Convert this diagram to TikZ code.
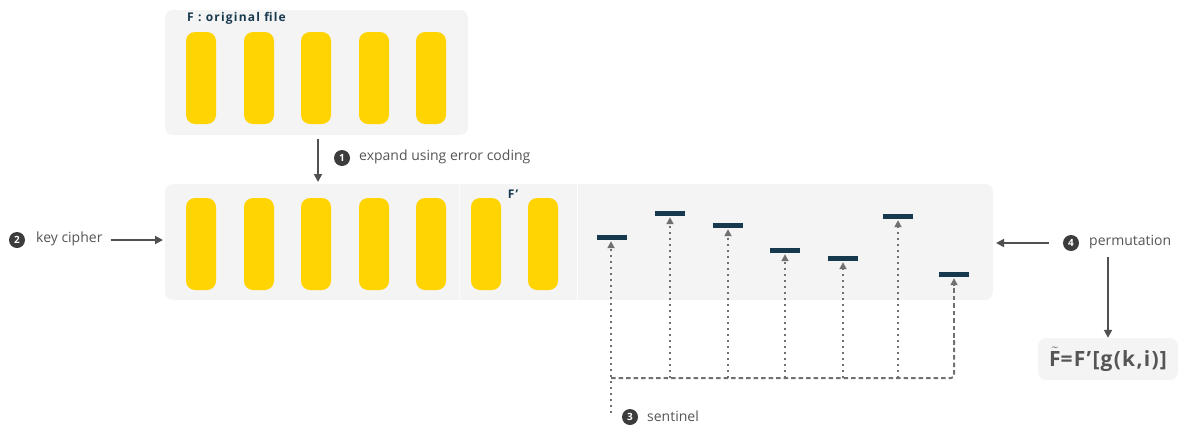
\documentclass[tikz,border=0pt]{standalone}
\usepackage{fontspec}
\setmainfont{Open Sans}
\usetikzlibrary{arrows.meta,calc}
\definecolor{panel}{HTML}{F4F4F5}
\definecolor{barcol}{HTML}{FFD400}
\definecolor{navy}{HTML}{17394D}
\definecolor{txt}{HTML}{555555}
\definecolor{arr}{HTML}{505050}
\definecolor{circ}{HTML}{3C3C3C}
\definecolor{dotc}{HTML}{707070}
\tikzset{
  panelbox/.style={fill=panel, draw=none, rounded corners=8pt, inner sep=0},
  filebar/.style={fill=barcol, draw=none, rounded corners=9pt, minimum width=30pt, minimum height=92pt, inner sep=0},
  sentbar/.style={fill=navy, draw=none, minimum width=30pt, minimum height=5pt, inner sep=0},
  num/.style={circle, fill=circ, text=white, minimum size=16pt, inner sep=0, font=\fontsize{10}{10}\selectfont\bfseries},
  lbl/.style={text=txt, font=\fontsize{14}{16}\selectfont, inner sep=0, anchor=west},
  title/.style={text=navy, font=\fontsize{12}{14}\selectfont\bfseries\addfontfeature{LetterSpace=10}, inner sep=0},
  flow/.style={draw=arr, line width=1.8pt, -{Triangle[length=8pt,width=8pt]}},
  dotline/.style={draw=dotc, line width=2pt, dash pattern=on 2pt off 4pt, -{Triangle[length=7pt,width=7pt]}, shorten >=1.5pt},
  dashline/.style={draw=dotc, line width=2pt, dash pattern=on 4.5pt off 3pt}
}
\begin{document}
\begin{tikzpicture}[x=1pt,y=-1pt]
\useasboundingbox (0,0) rectangle (1185,434);
% top panel
\node[panelbox, minimum width=303pt, minimum height=125pt] (top) at (316.5,72.5) {};
\node[title, anchor=west] (ftitle) at (187,18) {F : original file};
\foreach \i/\x in {1/201,2/259,3/316,4/374,5/431}
  \node[filebar] (t\i) at (\x,78) {};
% middle panel
\node[panelbox, minimum width=828pt, minimum height=116pt] (mid) at (579,242) {};
\draw[white, line width=1.8pt] (577.5,184) -- (577.5,300);
\draw[white, line width=1pt, opacity=0.6] (459,184) -- (459,300);
\foreach \i/\x in {1/201,2/259,3/316,4/374,5/431,6/486,7/543}
  \node[filebar] (m\i) at (\x,244) {};
\node[title] (fprime) at (513,194) {F\textquoteright};
% sentinel dashes
\foreach \i/\x/\y in {1/612/237,2/670/213,3/728/225,4/785/250,5/843/258,6/898/216,7/954/274}
  \node[sentbar] (d\i) at (\x,\y) {};
% step 1
\coordinate (a1s) at (318,139);
\coordinate (a1e) at (318,182);
\draw[flow] (a1s) -- (a1e);
\node[num] (n1) at (342,158) {1};
\node[lbl] (l1) at (359,157) {expand using error coding};
% step 2
\node[num] (n2) at (17,240) {2};
\node[lbl] (l2) at (36,239) {key cipher};
\coordinate (a2e) at (163,240);
\draw[flow] ([xshift=8pt]l2.east |- n2) -- (a2e);
% step 4
\node[num] (n4) at (1071,243) {4};
\node[lbl] (l4) at (1089,242) {permutation};
\coordinate (a4e) at (996,243);
\draw[flow] ([xshift=-14pt]n4.west) -- (a4e);
% result
\node[panelbox, minimum width=140pt, minimum height=42pt, text=txt, font=\fontsize{21}{24}\selectfont\bfseries\addfontfeature{LetterSpace=6}] (res) at (1108,359) {$\tilde{\mbox{F}}$=F\textquoteright[g(k,i)]};
\coordinate (a5s) at (1108,257);
\draw[flow] (a5s) -- (res.north -| a5s);
% step 3 sentinel
\node[num] (n3) at (630,417) {3};
\node[lbl] (l3) at (647,416) {sentinel};
\coordinate (s0) at (611,413);
\draw[dotline] (s0) -- (d1.south -| s0);
\draw[dashline, rounded corners=3pt] (611,378) -- (954,378) -- (954,340);
\draw[dashline, -{Triangle[length=7pt,width=7pt]}, shorten >=1.5pt] (954,345) -- (d7.south);
\foreach \i/\x in {2/670,3/728,4/785,5/843,6/898}
  \draw[dotline] (\x,378) -- (d\i.south);
\end{tikzpicture}
\end{document}
